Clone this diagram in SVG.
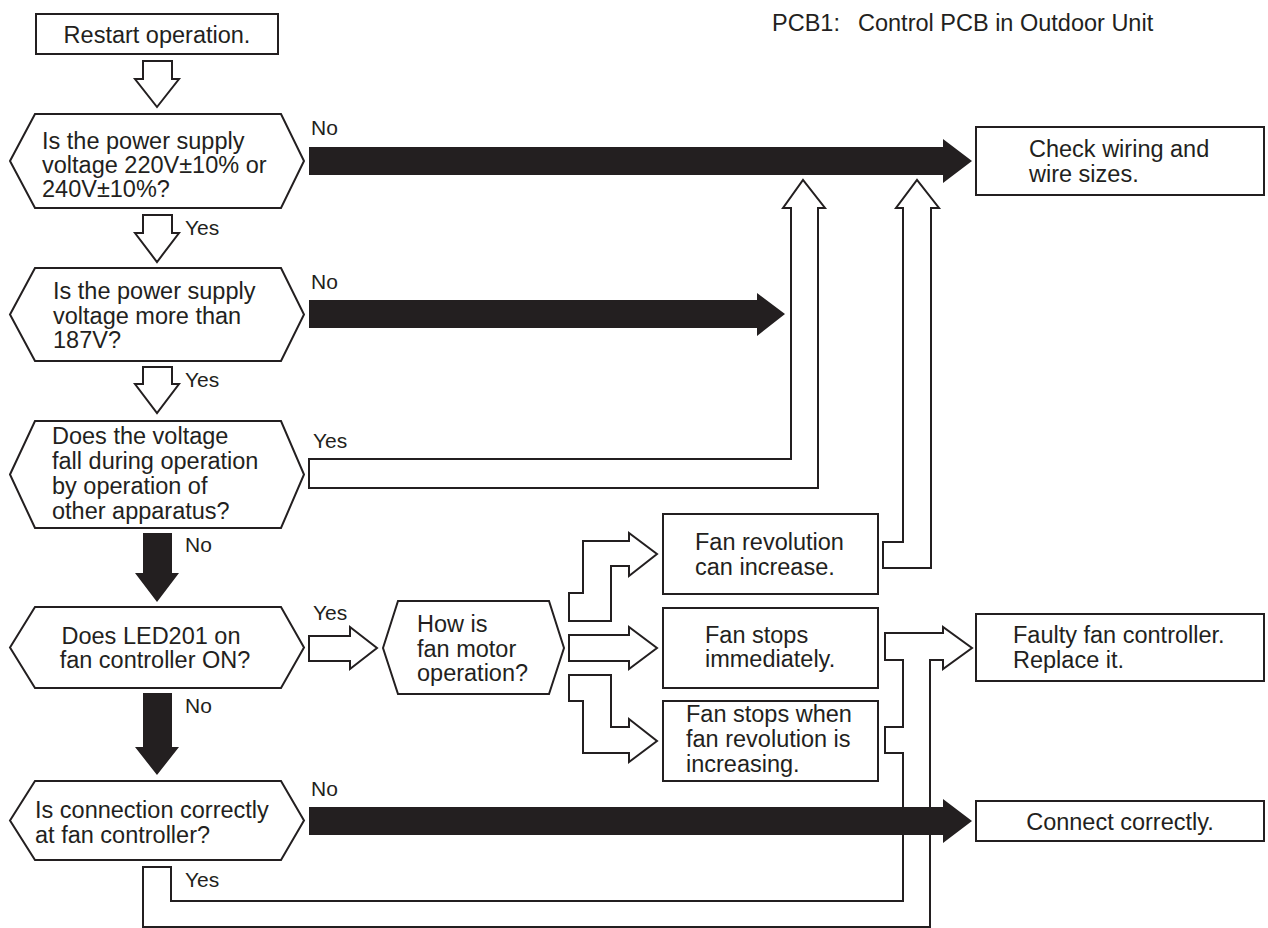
<svg xmlns="http://www.w3.org/2000/svg" width="1268" height="928" viewBox="0 0 1268 928">
<style>
.box{fill:#fff;stroke:#231f20;stroke-width:2}
.hollow{fill:#fff;stroke:#231f20;stroke-width:2;stroke-linejoin:miter}
.solid{fill:#231f20;stroke:none}
.t{font-family:"Liberation Sans",Arial,Helvetica,sans-serif;font-size:23.5px;fill:#231f20}
.l{font-family:"Liberation Sans",Arial,Helvetica,sans-serif;font-size:21px;fill:#231f20}
.m{text-anchor:middle}
</style>
<rect width="1268" height="928" fill="#fff"/>
<text class="t" x="772" y="31">PCB1:</text>
<text class="t" x="858" y="31">Control PCB in Outdoor Unit</text>

<g id="connectors">
  <polygon class="hollow" points="143,61 172,61 172,79 179,79 157,107 135,79 143,79"/>
  <polygon class="hollow" points="143,215 172,215 172,233 179,233 157,262 135,233 143,233"/>
  <polygon class="hollow" points="143,367 172,367 172,384 179,384 157,413 135,384 143,384"/>
  <polygon class="solid" points="143,533 172,533 172,573 179,573 157,602 135,573 143,573"/>
  <polygon class="solid" points="143,693 172,693 172,747 179,747 157,775 135,747 143,747"/>
  <polygon class="solid" points="309,147 943,147 943,139 972,161 943,183 943,175 309,175"/>
  <polygon class="solid" points="309,300 757,300 757,293 785,314 757,336 757,328 309,328"/>
  <polygon class="hollow" points="309,459 791,459 791,208 783,208 803,180 825,208 818,208 818,488 309,488"/>
  <polygon class="hollow" points="883,542 903,542 903,208 896,208 917,180 939,208 931,208 931,568 883,568"/>
  <polygon class="hollow" points="309,636 350,636 350,627 377,648 350,669 350,661 309,661"/>
  <polygon class="hollow" points="569,593 583,593 583,541 629,541 629,533 657,554 629,576 629,566 611,566 611,621 569,621"/>
  <polygon class="hollow" points="569,635 629,635 629,627 657,648 629,669 629,661 569,661"/>
  <polygon class="hollow" points="569,675 611,675 611,727 629,727 629,719 657,741 629,762 629,753 583,753 583,701 569,701"/>
  <polygon class="hollow" points="885,633 943,633 943,627 972,648 943,669 943,660 930,660 930,927 143,927 143,867 171,867 171,901 903,901 903,753 885,753 885,727 903,727 903,660 885,660"/>
  <polygon class="solid" points="309,807 943,807 943,799 972,821 943,843 943,835 309,835"/>
  <text class="l" x="311" y="135">No</text>
  <text class="l" x="185" y="235">Yes</text>
  <text class="l" x="311" y="289">No</text>
  <text class="l" x="185" y="387">Yes</text>
  <text class="l" x="313" y="448">Yes</text>
  <text class="l" x="185" y="552">No</text>
  <text class="l" x="313" y="620">Yes</text>
  <text class="l" x="185" y="713">No</text>
  <text class="l" x="311" y="796">No</text>
  <text class="l" x="185" y="887">Yes</text>
</g>

<g id="n-restart">
  <rect class="box" x="36" y="14" width="242" height="40"/>
  <text class="t m" x="157" y="43">Restart operation.</text>
</g>
<g id="n-q1">
  <polygon class="box" points="10,161 35,114 281,114 304,161 281,208 35,208"/>
  <text class="t" x="42" y="149">Is the power supply</text>
  <text class="t" x="42" y="173">voltage 220V±10% or</text>
  <text class="t" x="42" y="197">240V±10%?</text>
</g>
<g id="n-q2">
  <polygon class="box" points="10,314.5 35,268 281,268 304,314.5 281,361 35,361"/>
  <text class="t" x="53" y="299">Is the power supply</text>
  <text class="t" x="53" y="324">voltage more than</text>
  <text class="t" x="53" y="348">187V?</text>
</g>
<g id="n-q3">
  <polygon class="box" points="10,474.5 35,421 281,421 304,474.5 281,528 35,528"/>
  <text class="t" x="52" y="444">Does the voltage</text>
  <text class="t" x="52" y="469">fall during operation</text>
  <text class="t" x="52" y="494">by operation of</text>
  <text class="t" x="52" y="519">other apparatus?</text>
</g>
<g id="n-q4">
  <polygon class="box" points="10,647.5 35,607 281,607 304,647.5 281,688 35,688"/>
  <text class="t m" x="151" y="644">Does LED201 on</text>
  <text class="t m" x="155" y="668">fan controller ON?</text>
</g>
<g id="n-q5">
  <polygon class="box" points="10,820.5 35,781 281,781 304,820.5 281,860 35,860"/>
  <text class="t" x="35" y="818">Is connection correctly</text>
  <text class="t" x="35" y="843">at fan controller?</text>
</g>
<g id="n-how">
  <polygon class="box" points="383,648 398,601 549,601 564,648 549,694 398,694"/>
  <text class="t" x="417" y="632">How is</text>
  <text class="t" x="417" y="657">fan motor</text>
  <text class="t" x="417" y="681">operation?</text>
</g>
<g id="n-check">
  <rect class="box" x="976" y="127" width="288" height="68"/>
  <text class="t" x="1029" y="157">Check wiring and</text>
  <text class="t" x="1029" y="182">wire sizes.</text>
</g>
<g id="n-fanrev">
  <rect class="box" x="663" y="514" width="215" height="80"/>
  <text class="t" x="695" y="550">Fan revolution</text>
  <text class="t" x="695" y="575">can increase.</text>
</g>
<g id="n-fanstop">
  <rect class="box" x="663" y="608" width="215" height="80"/>
  <text class="t" x="705" y="643">Fan stops</text>
  <text class="t" x="705" y="667">immediately.</text>
</g>
<g id="n-fanstopwhen">
  <rect class="box" x="663" y="701" width="215" height="80"/>
  <text class="t" x="686" y="722">Fan stops when</text>
  <text class="t" x="686" y="747">fan revolution is</text>
  <text class="t" x="686" y="772">increasing.</text>
</g>
<g id="n-faulty">
  <rect class="box" x="976" y="614" width="288" height="67"/>
  <text class="t" x="1013" y="643">Faulty fan controller.</text>
  <text class="t" x="1013" y="668">Replace it.</text>
</g>
<g id="n-connect">
  <rect class="box" x="976" y="801" width="288" height="40"/>
  <text class="t m" x="1120" y="830">Connect correctly.</text>
</g>
</svg>
